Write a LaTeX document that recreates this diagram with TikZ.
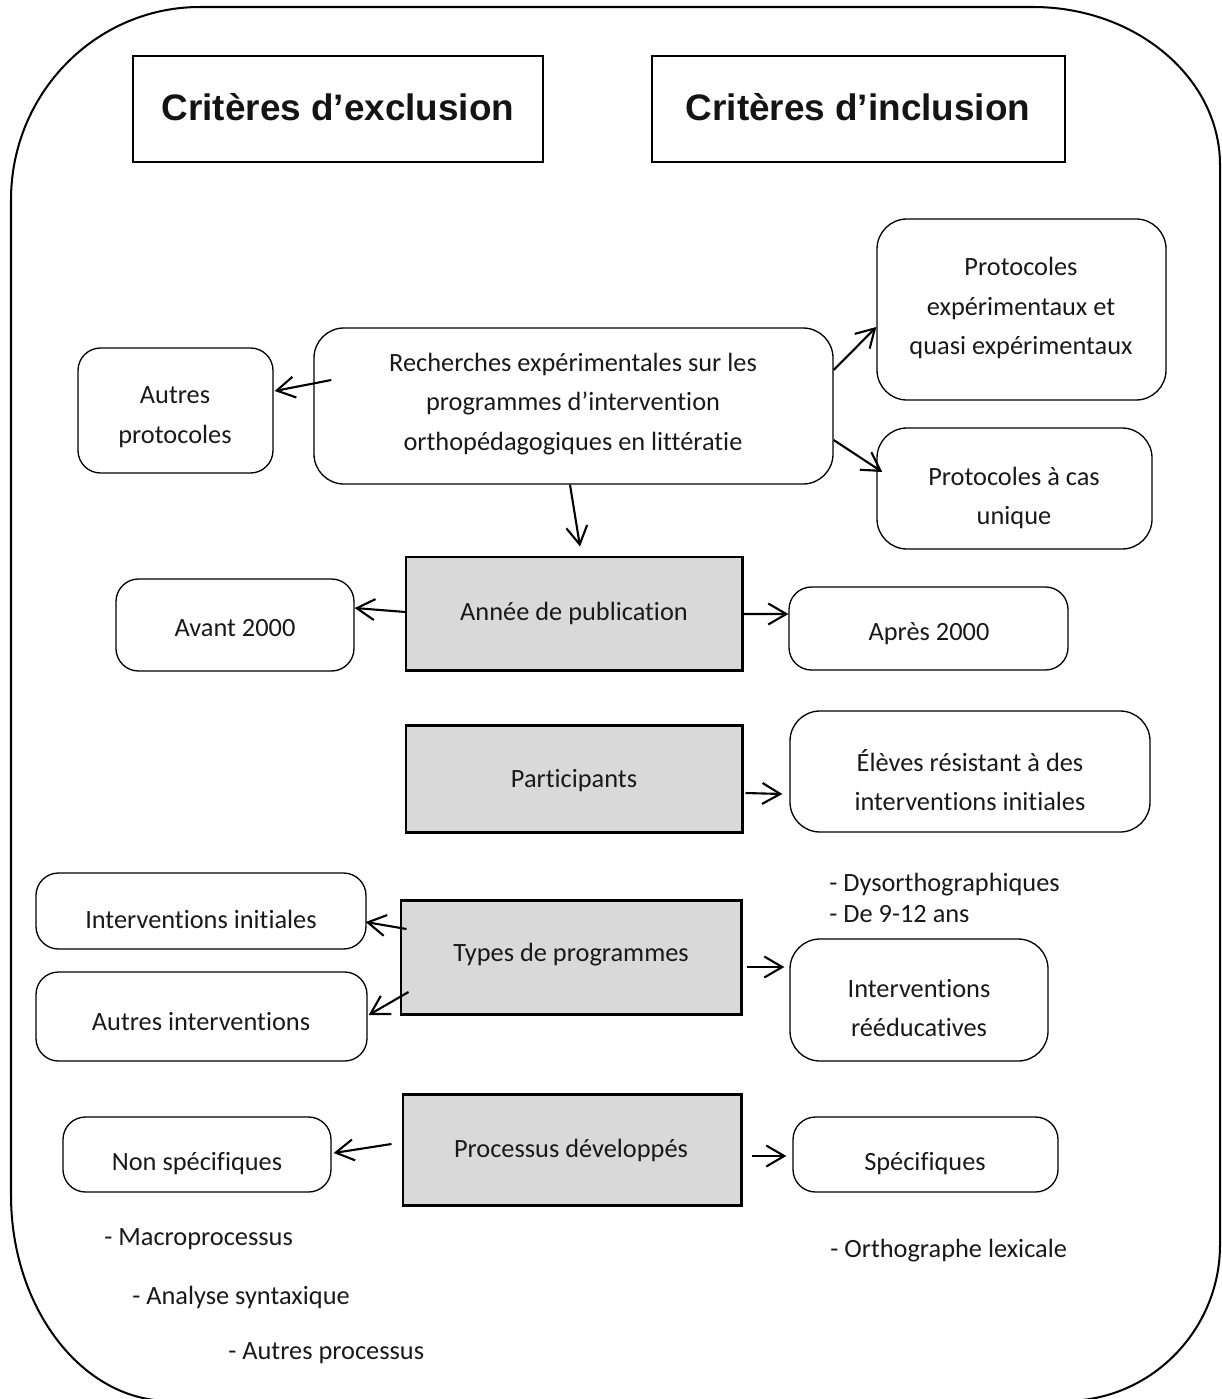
\documentclass[tikz,border=0pt]{standalone}
\usepackage{fontspec}
\setmainfont{Carlito}[RawFeature={-liga;-clig;-calt}]
\newfontfamily\headfont{Liberation Sans}
\usetikzlibrary{arrows.meta,calc,fit}
\definecolor{boxgray}{HTML}{D9D9D9}
\begin{document}
\begin{tikzpicture}[x=0.02cm,y=-0.02cm,
  txt/.style={font=\fontsize{15}{22.5}\selectfont, align=center, inner sep=0pt, text=black!90},
  ltxt/.style={font=\fontsize{15}{22.5}\selectfont, inner sep=0pt, anchor=base west, text=black!90},
  rbox/.style={draw, line width=0.75pt, rounded corners=0.45cm, inner sep=0pt},
  bigrbox/.style={rbox, rounded corners=0.6cm},
  gbox/.style={draw, fill=boxgray, line width=1.7pt, inner sep=0pt},
  hbox/.style={draw, line width=1.2pt, inner sep=0pt},
  htxt/.style={font=\headfont\bfseries\fontsize{21}{25}\selectfont, inner sep=0pt, text=black!92},
  arr/.style={line width=1.2pt, -{Straight Barb[length=0.36cm,width=0.42cm,line width=1.2pt]}},
  outer/.style={line width=1.15pt}
]
\useasboundingbox (0,0) rectangle (1222,1399);

% outer frame
\draw[outer] (11,200) .. controls (11,93) and (96,7) .. (200,7)
  -- (1033,7) .. controls (1136,7) and (1220,78) .. (1220,165)
  -- (1220,1245) .. controls (1220,1330) and (1151,1401) .. (1065,1401)
  -- (170,1401) .. controls (82,1401) and (11,1308) .. (11,1195) -- cycle;

% headers
\node[hbox, fit={(133,56)(543,162)}] (hex) {};
\node[htxt] (hex-t) at (338,107) {Critères d’exclusion};
\node[hbox, fit={(652,56)(1065,162)}] (hin) {};
\node[htxt] (hin-t) at (858,107) {Critères d’inclusion};

% top row
\node[bigrbox, fit={(314,328)(833,484)}] (main) {};
\node[txt] (main-t) at (573,404) {Recherches expérimentales sur les\\programmes d’intervention\\orthopédagogiques en littératie};
\node[rbox, fit={(78,348)(273,473)}] (ap) {};
\node[txt] (ap-t) at (175,417) {Autres\\protocoles};
\node[bigrbox, fit={(877,219)(1166,400)}] (pe) {};
\node[txt] (pe-t) at (1021,308) {Protocoles\\expérimentaux et\\quasi expérimentaux};
\node[bigrbox, fit={(877,428)(1152,549)}] (pu) {};
\node[txt] (pu-t) at (1014,498) {Protocoles à cas\\unique};

% gray boxes
\node[gbox, fit={(406,557)(742,670)}] (annee) {};
\node[txt] (annee-t) at (574,613) {Année de publication};
\node[gbox, fit={(406,725)(742,832)}] (part) {};
\node[txt] (part-t) at (574,781) {Participants};
\node[gbox, fit={(401,900)(741,1014)}] (types) {};
\node[txt] (types-t) at (571,955) {Types de programmes};
\node[gbox, fit={(403,1094)(741,1205)}] (proc) {};
\node[txt] (proc-t) at (571,1150) {Processus développés};

% side boxes
\node[rbox, fit={(116,579)(354,671)}] (avant) {};
\node[txt] (avant-t) at (235,628) {Avant 2000};
\node[rbox, fit={(789,587)(1068,670)}] (apres) {};
\node[txt] (apres-t) at (929,634) {Après 2000};
\node[bigrbox, fit={(790,711)(1150,832)}] (eleves) {};
\node[txt] (eleves-t) at (970,780) {Élèves résistant à des\\interventions initiales};
\node[rbox, fit={(36,873)(366,949)}] (ii) {};
\node[txt] (ii-t) at (201,919) {Interventions initiales};
\node[rbox, fit={(36,972)(367,1061)}] (ai) {};
\node[txt] (ai-t) at (201,1022) {Autres interventions};
\node[bigrbox, fit={(790,939)(1048,1061)}] (ir) {};
\node[txt] (ir-t) at (919,1008) {Interventions\\rééducatives};
\node[rbox, fit={(63,1117)(331,1192)}] (ns) {};
\node[txt] (ns-t) at (197,1164) {Non spécifiques};
\node[rbox, fit={(793,1117)(1058,1192)}] (sp) {};
\node[txt] (sp-t) at (925,1164) {Spécifiques};

% free texts
\node[ltxt] (dys) at (829,891) {- Dysorthographiques};
\node[ltxt] (age) at (829,922) {- De 9-12 ans};
\node[ltxt] (mac) at (104,1245) {- Macroprocessus};
\node[ltxt] (ana) at (132,1304) {- Analyse syntaxique};
\node[ltxt] (autp) at (228,1359) {- Autres processus};
\node[ltxt] (orth) at (830,1257) {- Orthographe lexicale};

% arrows
\draw[arr] ($(main.west)+(18,-26)$) -- ($(ap.east)+(1,-19.5)$);
\draw[arr] ($(main.east)+(0,-36)$) -- ($(pe.west)+(0,17.5)$);
\draw[arr] ($(main.east)+(0,34)$) -- ($(pu.west)+(6,-16.5)$);
\draw[arr] ($(main.south)+(-3.5,0)$) -- ($(annee.north)+(6,-9)$);
\draw[arr] ($(annee.west)+(1,-1.5)$) -- ($(avant.east)+(0,-17)$);
\draw[arr] ($(annee.east)+(0,0.5)$) -- ($(apres.west)+(0,-14.5)$);
\draw[arr] ($(part.east)+(2,14.5)$) -- ($(eleves.west)+(-7,22.5)$);
\draw[arr] ($(types.west)+(7,-28)$) -- ($(ii.east)+(-1,11)$);
\draw[arr] ($(types.west)+(9,35)$) -- ($(ai.east)+(1,-1.5)$);
\draw[arr] ($(types.east)+(4,10)$) -- ($(ir.west)+(-5,-33)$);
\draw[arr] ($(proc.west)+(-10,-5.5)$) -- ($(ns.east)+(2,-1.5)$);
\draw[arr] ($(proc.east)+(9,6.5)$) -- ($(sp.west)+(-6,1.5)$);
\end{tikzpicture}
\end{document}
